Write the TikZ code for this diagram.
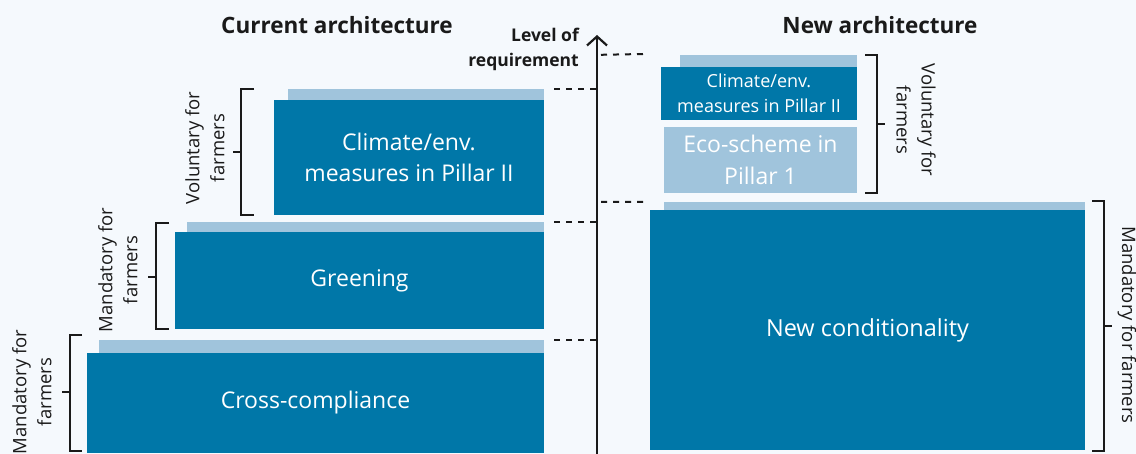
\documentclass[tikz,border=0pt]{standalone}
\usepackage{fontspec}
\setmainfont{Open Sans}
\usetikzlibrary{arrows.meta}
\definecolor{bg}{HTML}{F5F9FD}
\definecolor{darkb}{HTML}{0077A8}
\definecolor{lightb}{HTML}{A0C4DC}
\definecolor{ink}{HTML}{1A1A1A}
\tikzset{
  darkbox/.style={fill=darkb, text=white, inner sep=0pt, align=center, font=\fontsize{23}{31}\selectfont},
  lightbar/.style={fill=lightb, inner sep=0pt},
  brk/.style={draw=ink, line width=2.2pt},
  guide/.style={draw=ink, line width=2pt, dash pattern=on 6pt off 6pt},
  side/.style={text=ink, align=center, font=\fontsize{18.5}{25}\selectfont, inner sep=0pt},
  ttl/.style={text=ink, font=\bfseries\fontsize{22.5}{26}\selectfont, inner sep=0pt}
}
\begin{document}
\begin{tikzpicture}[x=1pt,y=-1pt]
\fill[bg] (0,0) rectangle (1136,454);
\useasboundingbox (0,0) rectangle (1136,454);
% titles
\node[ttl] (t1) at (337,25) {Current architecture};
\node[ttl] (t2) at (880,25) {New architecture};
\node[text=ink, font=\bfseries\fontsize{17.5}{25}\selectfont, align=right, anchor=east, inner sep=0pt] (lvl) at (579,49) {Level of\\requirement};
% left boxes
\node[lightbar, minimum width=445pt, minimum height=13pt] (ccbar) at (321.5,346.5) {};
\node[darkbox, minimum width=457pt, minimum height=100pt] (cc) at (315.5,403) {Cross-compliance};
\node[lightbar, minimum width=357pt, minimum height=10pt] (grbar) at (365.5,227.5) {};
\node[darkbox, minimum width=369pt, minimum height=97pt] (gr) at (359.5,280.5) {Greening};
\node[lightbar, minimum width=256pt, minimum height=11pt] (clbar) at (416,94.5) {};
\node[darkbox, minimum width=270pt, minimum height=115pt] (cl) at (409,157.5) {Climate/env.\\measures in Pillar II};
% right boxes
\node[lightbar, minimum width=177pt, minimum height=12pt] (crbar) at (768.5,61) {};
\node[darkbox, minimum width=196pt, minimum height=53pt, font=\fontsize{18}{25}\selectfont] (cr) at (759,93.5) {Climate/env.\\measures in Pillar II};
\node[lightbar, text=white, align=center, minimum width=193pt, minimum height=66pt, font=\fontsize{23}{32}\selectfont] (eco) at (760.5,160) {Eco-scheme in\\Pillar 1};
\node[lightbar, minimum width=421pt, minimum height=12pt] (ncbar) at (874.5,208) {};
\node[darkbox, minimum width=435pt, minimum height=239pt, font=\fontsize{23.5}{31}\selectfont] (nc) at (867.5,330) {New conditionality};
% axis
\coordinate (ax0) at (597,454);
\coordinate (ax1) at (597,35);
\draw[draw=ink, line width=2.2pt, -{Straight Barb[length=9pt,width=20pt,line width=2.2pt]}] (ax0) -- (ax1);
% guides
\draw[guide] (cc.north east |- ccbar.north) ++(10pt,0) coordinate (g1a) -- (ax0 |- ccbar.north);
\draw[guide] (grbar.north east) ++(10pt,0) -- (ax0 |- grbar.north);
\draw[guide] (clbar.north east) ++(10pt,0) -- (ax0 |- clbar.north);
\draw[guide] (ax0 |- crbar.north) ++(4pt,0) -- (643,54);
\draw[guide] (ax0 |- ncbar.north) ++(4pt,0) -- (643,202);
% left brackets
\draw[brk] (82,335) -- (70,335) -- (70,451) -- (82,451);
\draw[brk] (70,392) -- (62,392);
\node[side, rotate=90] (s1) at (32,392) {Mandatory for\\farmers};
\draw[brk] (169,223) -- (156,223) -- (156,329) -- (169,329);
\draw[brk] (156,277) -- (148,277);
\node[side, rotate=90] (s2) at (118,270) {Mandatory for\\farmers};
\draw[brk] (254,89) -- (241,89) -- (241,215) -- (254,215);
\draw[brk] (241,152) -- (233,152);
\node[side, rotate=90] (s3) at (205,148) {Voluntary for\\farmers};
% right brackets
\draw[brk] (865,55) -- (877,55) -- (877,193) -- (865,193);
\draw[brk] (877,124) -- (885,124);
\node[side, rotate=-90] (s4) at (916,120) {Voluntary for\\farmers};
\draw[brk] (1092,201) -- (1104,201) -- (1104,451) -- (1092,451);
\draw[brk] (1104,326) -- (1112,326);
\node[side, rotate=-90] (s5) at (1127,325) {Mandatory for farmers};
\end{tikzpicture}
\end{document}
